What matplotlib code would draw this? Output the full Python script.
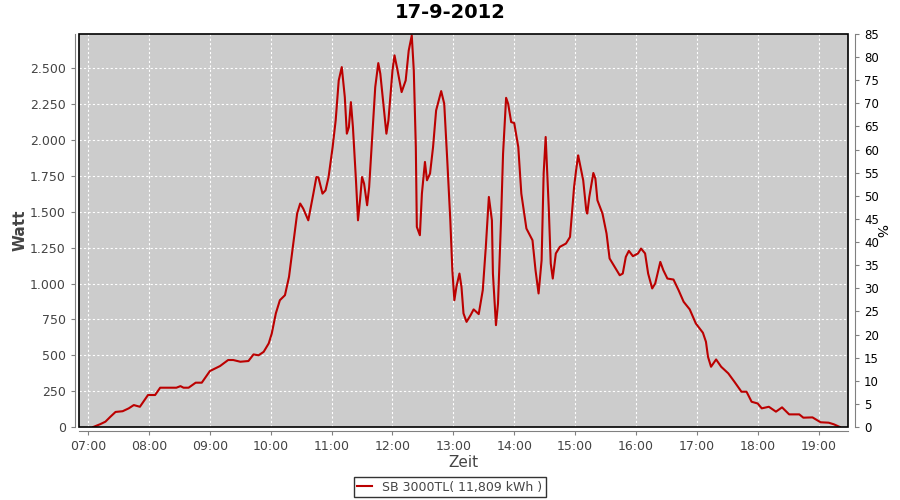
import pandas as pd
import matplotlib
matplotlib.use('Agg')
import matplotlib.pyplot as plt
import matplotlib.dates as mdates
from matplotlib.ticker import FuncFormatter, MultipleLocator
from matplotlib.patches import Rectangle

# Leistung im Tagesverlauf
zeiten = [
    "07:05", "07:12", "07:17", "07:22", "07:27", "07:34", "07:40", "07:45", "07:51", "07:59",
    "08:06", "08:11", "08:27", "08:31", "08:34", "08:39", "08:46", "08:52", "09:00", "09:10",
    "09:18", "09:23", "09:30", "09:38", "09:43", "09:48", "09:53", "09:58", "10:01", "10:05",
    "10:09", "10:14", "10:18", "10:23", "10:26", "10:29", "10:32", "10:37", "10:42", "10:45",
    "10:47", "10:51", "10:54", "10:57", "11:01", "11:04", "11:07", "11:10", "11:13", "11:15",
    "11:17", "11:19", "11:21", "11:24", "11:26", "11:28", "11:30", "11:32", "11:35", "11:37",
    "11:40", "11:43", "11:46", "11:48", "11:51", "11:54", "11:56", "12:00", "12:02", "12:05",
    "12:09", "12:13", "12:16", "12:19", "12:21", "12:23", "12:24", "12:27", "12:29", "12:32",
    "12:34", "12:37", "12:40", "12:43", "12:48", "12:51", "12:54", "12:57", "12:59", "13:01",
    "13:03", "13:06", "13:08", "13:10", "13:13", "13:17", "13:20", "13:25", "13:29", "13:32",
    "13:35", "13:38", "13:39", "13:42", "13:44", "13:47", "13:49", "13:52", "13:54", "13:57",
    "14:00", "14:04", "14:07", "14:12", "14:18", "14:21", "14:24", "14:27", "14:29", "14:31",
    "14:34", "14:36", "14:38", "14:41", "14:45", "14:51", "14:55", "14:59", "15:01", "15:03",
    "15:04", "15:08", "15:11", "15:12", "15:14", "15:18", "15:20", "15:22", "15:27", "15:31",
    "15:34", "15:39", "15:44", "15:47", "15:50", "15:53", "15:57", "16:02", "16:05", "16:09",
    "16:12", "16:16", "16:19", "16:24", "16:27", "16:31", "16:37", "16:42", "16:47", "16:53",
    "16:59", "17:06", "17:09", "17:11", "17:14", "17:19", "17:24", "17:31", "17:37", "17:44",
    "17:49", "17:54", "18:00", "18:04", "18:11", "18:18", "18:24", "18:31", "18:41", "18:45",
    "18:54", "19:02", "19:10", "19:15", "19:21",
]
watt = [
    0, 20, 37, 72, 105, 110, 130, 153, 141, 223,
    223, 274, 274, 285, 274, 274, 309, 309, 390, 425,
    467, 467, 455, 460, 506, 500, 524, 583, 652, 792,
    884, 919, 1047, 1325, 1488, 1558, 1523, 1441, 1627, 1743,
    1740, 1627, 1650, 1743, 1952, 2138, 2416, 2509, 2300, 2045,
    2090, 2265, 2091, 1720, 1441, 1581, 1743, 1697, 1546, 1673,
    2022, 2370, 2537, 2463, 2254, 2045, 2138, 2486, 2591, 2486,
    2335, 2416, 2625, 2730, 2486, 1952, 1395, 1337, 1627, 1848,
    1720, 1767, 1952, 2207, 2342, 2254, 1859, 1441, 1093, 884,
    977, 1070, 977, 792, 733, 780, 820, 787, 954, 1256,
    1604, 1441, 1070, 710, 861, 1441, 1906, 2295, 2254, 2126,
    2119, 1952, 1627, 1384, 1302, 1093, 931, 1163, 1767, 2022,
    1534, 1140, 1035, 1210, 1256, 1279, 1325, 1673, 1790, 1894,
    1860, 1720, 1511, 1488, 1604, 1771, 1732, 1581, 1488, 1349,
    1175, 1116, 1058, 1070, 1186, 1228, 1191, 1210, 1244, 1210,
    1070, 966, 1001, 1151, 1093, 1035, 1028, 954, 873, 820,
    722, 657, 594, 490, 420, 471, 420, 374, 316, 246,
    246, 176, 164, 130, 141, 107, 137, 88, 88, 65,
    67, 33, 30, 19, 0,
]

datum = "2012-09-17"
t = pd.to_datetime([datum + " " + z for z in zeiten])

fig = plt.figure(figsize=(9, 5), dpi=100)
ax = fig.add_axes([0.0878, 0.146, 0.8544, 0.786])
ax.set_facecolor("#cccccc")

linie, = ax.plot(t, watt, color="#bb0000", lw=1.5, label="SB 3000TL( 11,809 kWh )")

ax.set_xlim(pd.Timestamp(datum + " 06:51"), pd.Timestamp(datum + " 19:29"))
ax.set_ylim(0, 2740)
ax.xaxis.set_major_locator(mdates.HourLocator())
ax.xaxis.set_major_formatter(mdates.DateFormatter("%H:%M"))
ax.yaxis.set_major_locator(MultipleLocator(250))
ax.yaxis.set_major_formatter(FuncFormatter(lambda v, p: f"{int(v):,}".replace(",", ".")))

ax.grid(True, color="white", ls=(0, (2, 2)), lw=0.8)

for s in ["top", "right"]:
    ax.spines[s].set_visible(False)
for s in ["left", "bottom"]:
    ax.spines[s].set_position(("outward", 3))
    ax.spines[s].set_color("#808080")
ax.add_patch(Rectangle((0, 0), 1, 1, transform=ax.transAxes, fill=False,
                       edgecolor="black", lw=1.2, clip_on=False, zorder=5))

ax.tick_params(axis="both", colors="#808080", labelcolor="#444444", labelsize=9, length=3)
ax.set_ylabel("Watt", fontsize=11, fontweight="bold", color="#444444", labelpad=2)
ax.set_xlabel("Zeit", fontsize=11, color="#444444", labelpad=1)
fig.text(0.5, 1 - 13 / 500, "17-9-2012", fontsize=14, fontweight="bold",
         ha="center", va="center")

# rechte Achse in Prozent
ax2 = ax.twinx()
ax2.set_ylim(0, 85)
ax2.yaxis.set_major_locator(MultipleLocator(5))
for s in ["top", "left", "bottom"]:
    ax2.spines[s].set_visible(False)
ax2.spines["right"].set_position(("outward", 5))
ax2.spines["right"].set_color("#808080")
ax2.tick_params(axis="y", colors="#808080", labelcolor="black", labelsize=8.5, length=3)
ax2.set_ylabel("%", fontsize=10, rotation=270, labelpad=6)

leg = fig.legend(handles=[linie], loc="center", bbox_to_anchor=(0.5, 1 - 487 / 500),
                 frameon=True, fancybox=False, fontsize=9, handlelength=1.2,
                 borderpad=0.3)
leg.get_frame().set_edgecolor("black")
leg.get_frame().set_linewidth(1)
for txt in leg.get_texts():
    txt.set_color("#444444")

fig.savefig("out.png", dpi=100)
